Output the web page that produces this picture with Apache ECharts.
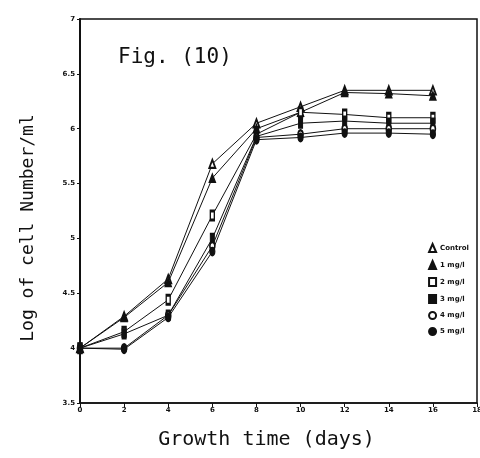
<!DOCTYPE html>
<html>
<head>
<meta charset="utf-8">
<script src="https://cdn.jsdelivr.net/npm/echarts@6/dist/echarts.min.js"></script>
<style>
	body{margin:0;background:#fff;}
	#ec1{width:480px;height:458px;}
</style>
</head>
<body>
<div id="ec1"></div>
<script>
// growth days
var days = [0, 2, 4, 6, 8, 10, 12, 14, 16];
var names = ['Control', '1 mg/l', '2 mg/l', '3 mg/l', '4 mg/l', '5 mg/l'];
// log of cell number per series
var control = [4, 4.29, 4.63, 5.68, 6.05, 6.2, 6.35, 6.35, 6.35];
var mg1 = [4, 4.28, 4.6, 5.55, 6.0, 6.15, 6.33, 6.32, 6.3];
var mg2 = [4, 4.15, 4.44, 5.21, 5.95, 6.15, 6.13, 6.1, 6.1];
var mg3 = [4, 4.13, 4.3, 5.0, 5.93, 6.05, 6.07, 6.05, 6.05];
var mg4 = [4, 4.0, 4.3, 4.93, 5.92, 5.95, 6.0, 6.0, 6.0];
var mg5 = [4, 3.99, 4.28, 4.88, 5.9, 5.92, 5.96, 5.96, 5.95];
var symbols = ['emptyTriangle', 'triangle', 'emptyRect', 'rect', 'emptyCircle', 'circle'];
var sizes = [[6, 8], [6, 8], [4, 9], [4, 9], [5, 8], [5, 8]];

chart();

function chart(){
	var myCharts = echarts.init(document.getElementById('ec1'));
	var all = [control, mg1, mg2, mg3, mg4, mg5];
	var series = [];
	for (var i = 0; i < all.length; i++) {
		var pts = [];
		for (var j = 0; j < days.length; j++) {
			pts.push([days[j], all[i][j]]);
		}
		series.push({
			name: names[i],
			type: 'line',
			data: pts,
			symbol: symbols[i],
			symbolSize: sizes[i],
			showSymbol: true,
			lineStyle: {color: '#111', width: 1},
			itemStyle: {color: '#111', borderColor: '#111', borderWidth: 1.5},
			animation: false
		});
	}
	var option = {
		backgroundColor: '#fff',
		title: {
			text: 'Fig. (10)',
			left: 113,
			top: 42,
			textStyle: {fontFamily: 'DejaVu Sans Mono', fontSize: 21, fontWeight: 'normal', color: '#111'}
		},
		legend: {
			orient: 'vertical',
			right: 6,
			top: 238,
			itemGap: 7,
			itemWidth: 7,
			itemHeight: 8,
			data: names.map(function (n, k) { return {name: n, icon: symbols[k]}; }),
			textStyle: {fontFamily: 'DejaVu Sans', fontSize: 7, fontWeight: 'bold', color: '#111', padding: [0, 0, 0, -1]}
		},
		grid: {
			left: 80,
			right: 3,
			top: 19,
			bottom: 55,
			outerBoundsMode: 'none',
			show: true,
			borderColor: '#111',
			borderWidth: 1.5
		},
		xAxis: {
			type: 'value',
			min: 0,
			max: 18,
			interval: 2,
			name: 'Growth time (days)',
			nameLocation: 'middle',
			nameGap: 27,
			nameTextStyle: {fontFamily: 'DejaVu Sans Mono', fontSize: 20, color: '#111', padding: [0, 24, 0, 0]},
			axisLine: {lineStyle: {color: '#111', width: 1.5}},
			axisTick: {show: true, length: 4, lineStyle: {color: '#111'}},
			axisLabel: {fontFamily: 'DejaVu Sans', fontSize: 7, fontWeight: 'bold', color: '#111', margin: 4},
			splitLine: {show: false}
		},
		yAxis: {
			type: 'value',
			min: 3.5,
			max: 7,
			interval: 0.5,
			name: 'Log of cell Number/ml',
			nameLocation: 'middle',
			nameGap: 43,
			nameTextStyle: {fontFamily: 'DejaVu Sans Mono', fontSize: 18, color: '#111', padding: [0, 34, 0, 0]},
			axisLine: {show: true, lineStyle: {color: '#111', width: 2}},
			axisTick: {show: true, length: 3, lineStyle: {color: '#111'}},
			axisLabel: {fontFamily: 'DejaVu Sans', fontSize: 7, fontWeight: 'bold', color: '#111', margin: 5},
			splitLine: {show: false}
		},
		series: series
	};
	myCharts.setOption(option);
}
</script>
</body>
</html>
